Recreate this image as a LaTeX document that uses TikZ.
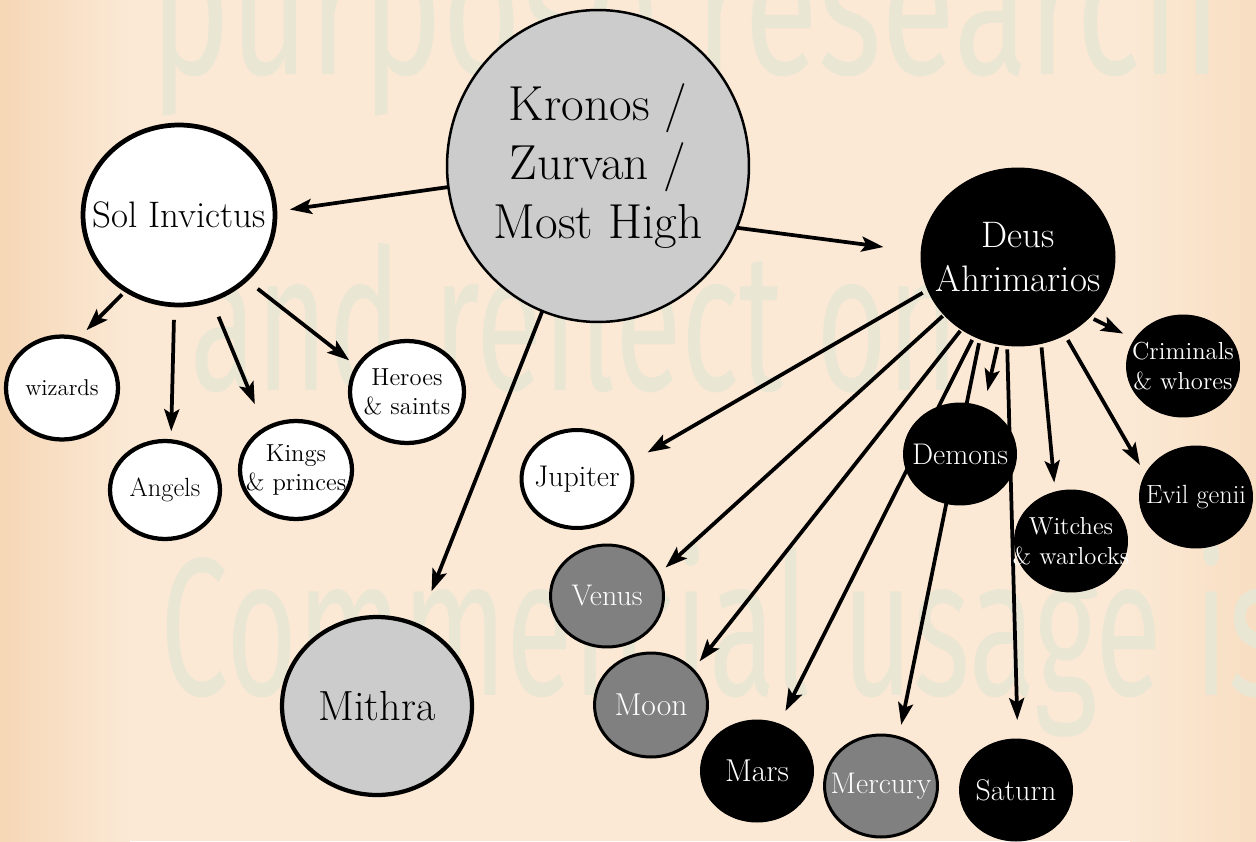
\documentclass[tikz,border=0pt]{standalone}
\usepackage{fontspec}
\newfontfamily\wmfont{Fira Sans}
\usetikzlibrary{arrows.meta,shapes.geometric}

\definecolor{bgmid}{RGB}{251,233,213}
\definecolor{bgleft}{RGB}{246,215,182}
\definecolor{bgright}{RGB}{248,222,194}
\definecolor{wmark}{RGB}{234,230,212}
\definecolor{lightgrey}{RGB}{204,204,204}
\definecolor{midgrey}{RGB}{128,128,128}

\pgfdeclarelayer{paper}
\pgfdeclarelayer{edges}
\pgfsetlayers{paper,edges,main}

\tikzset{
  orb/.style={ellipse, inner sep=0pt, outer sep=0pt},
  whiteorb/.style={orb, draw=black, fill=white, line width=0.085cm},
  greyorb/.style={orb, draw=black, fill=lightgrey, line width=0.085cm},
  midorb/.style={orb, draw=black, fill=midgrey, line width=0.06cm},
  blackorb/.style={orb, draw=black, fill=black, line width=0.02cm},
  small/.style={minimum width=2.26cm, minimum height=2.04cm},
  darklab/.style={text=black, align=center, inner sep=0pt,
    font=\fontsize{#1}{1.2\dimexpr#1\relax}\selectfont},
  lightlab/.style={text=white, align=center, inner sep=0pt,
    font=\fontsize{#1}{1.2\dimexpr#1\relax}\selectfont},
  arr/.style={line width=0.075cm, -{Stealth[length=0.44cm, width=0.3cm, inset=0.09cm]}},
  wmtext/.style={text=wmark, anchor=base west, inner sep=0pt, xscale=#1,
    font=\wmfont\fontsize{112pt}{112pt}\selectfont},
}

\begin{document}
\begin{tikzpicture}[x=0.02cm, y=-0.02cm]
  \useasboundingbox (0,0) rectangle (1256,841);

  \begin{pgfonlayer}{paper}
    % paper background
    \fill[bgmid] (0,0) rectangle (1256,841);
    \shade[left color=bgleft, right color=bgmid] (0,0) rectangle (130,841);
    \shade[left color=bgmid, right color=bgright] (1130,0) rectangle (1256,841);
    % faint lettering behind the chart
    \node[wmtext=0.69] (wm1) at (150,75) {purpose research};
    \node[wmtext=0.62] (wm2) at (190,390) {and reflect on};
    \node[wmtext=0.62] (wm3) at (160,695) {Commercial usage is};
  \end{pgfonlayer}

  % top level
  \node[greyorb, line width=0.05cm, minimum width=6.04cm, minimum height=6.24cm,
        label={[darklab=28pt]center:{Kronos /\\Zurvan /\\Most High}}]
        (kronos) at (598,166) {};
  \node[whiteorb, line width=0.095cm, minimum width=3.84cm, minimum height=3.6cm,
        label={[darklab=21pt]center:Sol Invictus}] (sol) at (179,215) {};
  \node[blackorb, minimum width=3.88cm, minimum height=3.56cm,
        label={[lightlab=21pt]center:{Deus\\Ahrimarios}}] (deus) at (1018,257) {};
  \node[greyorb, minimum width=3.8cm, minimum height=3.56cm,
        label={[darklab=24pt]center:Mithra}] (mithra) at (377,706) {};

  % children of Sol Invictus
  \node[whiteorb, minimum width=2.24cm, minimum height=2.06cm,
        label={[darklab=13pt]center:wizards}] (wizards) at (62,388) {};
  \node[whiteorb, minimum width=2.2cm, minimum height=1.96cm,
        label={[darklab=15pt]center:Angels}] (angels) at (165,490) {};
  \node[whiteorb, minimum width=2.24cm, minimum height=1.96cm,
        label={[darklab=14pt]center:{Kings\\\& princes}}] (kings) at (296,470) {};
  \node[whiteorb, minimum width=2.28cm, minimum height=2.04cm,
        label={[darklab=14pt]center:{Heroes\\\& saints}}] (heroes) at (407,392) {};

  % children of Deus Ahrimarios
  \node[whiteorb, line width=0.08cm, minimum width=2.22cm, minimum height=1.96cm,
        label={[darklab=17pt]center:Jupiter}] (jupiter) at (577,479) {};
  \node[midorb, small, label={[lightlab=17pt]center:Venus}] (venus) at (607,596) {};
  \node[midorb, small, minimum height=2.08cm,
        label={[lightlab=18pt]center:Moon}] (moon) at (651,705) {};
  \node[blackorb, small, label={[lightlab=18pt]center:Mars}] (mars) at (757,771) {};
  \node[midorb, small, label={[lightlab=17pt]center:Mercury}] (mercury) at (881,786) {};
  \node[blackorb, small, label={[lightlab=17pt]center:Saturn}] (saturn) at (1016,790) {};
  \node[blackorb, small, label={[lightlab=17pt]center:Demons}] (demons) at (960,454) {};
  \node[blackorb, small,
        label={[lightlab=14pt]center:{Witches\\\& warlocks}}] (witches) at (1071,541) {};
  \node[blackorb, small,
        label={[lightlab=14pt]center:{Criminals\\\& whores}}] (criminals) at (1183,366) {};
  \node[blackorb, small, label={[lightlab=15pt]center:Evil genii}] (evil) at (1196,497) {};

  \begin{pgfonlayer}{edges}
    % connectors from Kronos
    \draw[arr, shorten >=0.30cm] (kronos.188) -- (sol.2);
    \draw[arr, shorten >=0.76cm] (kronos.336) -- (deus.177);
    \draw[arr, shorten >=0.74cm] (kronos.249) -- (mithra.63);

    % connectors from Sol Invictus
    \draw[arr, shorten <=0.12cm, shorten >=0.24cm] (sol.235) -- (wizards.72);
    \draw[arr, shorten <=0.30cm, shorten >=0.20cm] (sol.267) -- (angels.83);
    \draw[arr, shorten <=0.37cm, shorten >=0.54cm] (sol.291) -- (kings.127);
    \draw[arr, shorten <=0.30cm, shorten >=0.21cm] (sol.316) -- (heroes.153);

    % connectors from Deus Ahrimarios
    \draw[arr, shorten <=0.12cm, shorten >=0.42cm] (deus.200) -- (jupiter.17);
    \draw[arr, shorten <=0.04cm, shorten >=0.20cm] (deus.218) -- (venus.23);
    \draw[arr, shorten <=0.04cm, shorten >=0.22cm] (deus.232) -- (moon.40);
    \draw[arr, shorten <=0.08cm, shorten >=0.29cm] (deus.241) -- (mars.65);
    \draw[arr, shorten <=0.09cm, shorten >=0.26cm] (deus.245) -- (mercury.70);
    \draw[arr, shorten <=0.06cm, shorten >=0.34cm] (deus.257) -- (demons.63);
    \draw[arr, shorten <=0.08cm, shorten >=0.38cm] (deus.263) -- (saturn.88);
    \draw[arr, shorten <=0.08cm, shorten >=0.19cm] (deus.285) -- (witches.108);
    \draw[arr, shorten <=0.12cm, shorten >=0.22cm] (deus.301) -- (evil.156);
    \draw[arr, shorten <=0.09cm, shorten >=0.26cm] (deus.320) -- (criminals.151);
  \end{pgfonlayer}
\end{tikzpicture}
\end{document}
